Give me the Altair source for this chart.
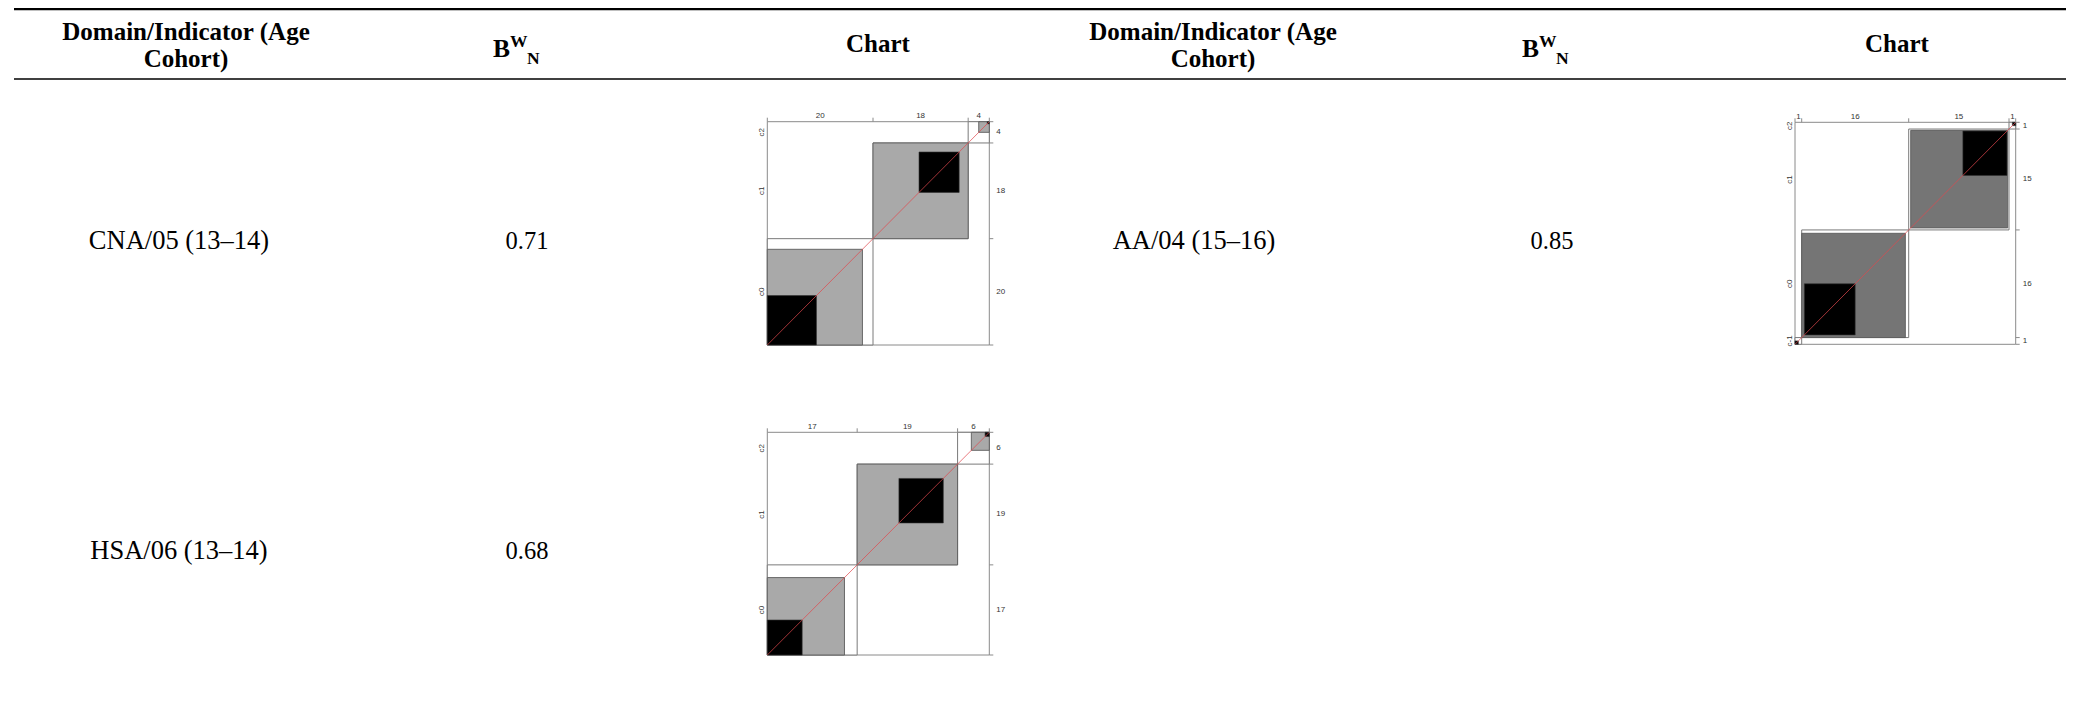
import altair as alt
import pandas as pd

# ---------------- data ----------------
header_col1 = ["Domain/Indicator (Age", "Cohort)"]
header_chart = "Chart"
bwn_parts = ["B", "W", "N"]

row_names = ["CNA/05 (13–14)", "HSA/06 (13–14)", "AA/04 (15–16)"]
row_bwn = ["0.71", "0.68", "0.85"]

# agreement charts: category names, marginal totals, partial (grey) and exact (black) squares
cna_cats = ["c0", "c1", "c2"]
cna_totals = [20, 18, 4]
cna_partial = [(0, 18), (20, 38), (40, 42)]
cna_exact = [(0, 9.3), (28.7, 36.3), (41.6, 42)]

hsa_cats = ["c0", "c1", "c2"]
hsa_totals = [17, 19, 6]
hsa_partial = [(0, 14.6), (17, 36), (38.6, 42)]
hsa_exact = [(0, 6.6), (24.9, 33.3), (41.2, 42)]

aa_cats = ["c-1", "c0", "c1", "c2"]
aa_totals = [1, 16, 15, 1]
aa_partial = [(1.0, 16.5), (17.3, 31.8)]
aa_exact = [(0, 0.5), (1.4, 9.0), (25.1, 31.7), (32.5, 33)]

# ---------------- layout (page pixels) ----------------
PAGE_W, PAGE_H, M = 2074, 707, 8
W, H = PAGE_W - 2 * M, PAGE_H - 2 * M

RULE_X = (14, 2067)
RULE_TOP_Y, RULE_MID_Y = 9.2, 79
HEAD_L1_Y, HEAD_L2_Y, HEAD_MID_Y = 39.5, 66.5, 52
RIGHT_OFF = 1027  # horizontal offset of the right-hand half of the table
COL1_HEAD_X, COL2_X, COL3_X = 186, 527, 878
BWN_HEAD_X = [519, 1548]
COL6_HEAD_X = 1897
ROW_Y = [248.5, 558.5]
ROW1_TEXT_X = 179
ROW4_TEXT_X = 1194
BWN_RIGHT_X = 1552

BOX_CNA = (767.3, 989.3, 121.7, 345.0)
BOX_HSA = (767.3, 989.3, 432.3, 655.0)
BOX_AA = (1795.0, 2015.7, 122.3, 344.3)
TICK_PX = 4

SERIF = "Liberation Serif"
SANS = "Liberation Sans"

px = alt.Scale(domain=[M, PAGE_W - M], range=[0, W], nice=False, zero=False)
py = alt.Scale(domain=[M, PAGE_H - M], range=[0, H], nice=False, zero=False)


def PX(f):
    return alt.X(f, type="quantitative", scale=px, axis=None)


def PY(f):
    return alt.Y(f, type="quantitative", scale=py, axis=None)


# ---------------- table layer ----------------
rules = pd.DataFrame({"x": [RULE_X[0]] * 2, "x2": [RULE_X[1]] * 2,
                      "y": [RULE_TOP_Y, RULE_MID_Y], "w": [2.3, 1.3]})
rule_layer = alt.Chart(rules).mark_rule(color="black").encode(
    x=PX("x"), x2="x2", y=PY("y"), strokeWidth=alt.StrokeWidth("w:Q", scale=None))

head_rows = []
for cx in [COL1_HEAD_X, COL1_HEAD_X + RIGHT_OFF]:
    head_rows.append({"x": cx, "y": HEAD_L1_Y, "t": header_col1[0]})
    head_rows.append({"x": cx, "y": HEAD_L2_Y, "t": header_col1[1]})
head_rows.append({"x": COL3_X, "y": HEAD_MID_Y, "t": header_chart})
head_rows.append({"x": COL6_HEAD_X, "y": HEAD_MID_Y, "t": header_chart})
head_layer = alt.Chart(pd.DataFrame(head_rows)).mark_text(
    font=SERIF, fontWeight="bold", fontSize=25, baseline="alphabetic", align="center", color="black"
).encode(x=PX("x"), y=PY("y"), text="t:N")

b_rows, sup_rows = [], []
for cx in BWN_HEAD_X:
    b_rows.append({"x": cx - 26, "y": 56.5, "t": bwn_parts[0]})
    sup_rows.append({"x": cx - 9, "y": 47, "t": bwn_parts[1]})
    sup_rows.append({"x": cx + 8, "y": 64, "t": bwn_parts[2]})
b_layer = alt.Chart(pd.DataFrame(b_rows)).mark_text(
    font=SERIF, fontWeight="bold", fontSize=25.5, baseline="alphabetic", align="left", color="black"
).encode(x=PX("x"), y=PY("y"), text="t:N")
sup_layer = alt.Chart(pd.DataFrame(sup_rows)).mark_text(
    font=SERIF, fontWeight="bold", fontSize=17.5, baseline="alphabetic", align="left", color="black"
).encode(x=PX("x"), y=PY("y"), text="t:N")

name_rows = [
    {"x": ROW1_TEXT_X, "y": ROW_Y[0], "t": row_names[0]},
    {"x": ROW1_TEXT_X, "y": ROW_Y[1], "t": row_names[1]},
    {"x": ROW4_TEXT_X, "y": ROW_Y[0], "t": row_names[2]},
]
num_rows = [
    {"x": COL2_X, "y": ROW_Y[0], "t": row_bwn[0]},
    {"x": COL2_X, "y": ROW_Y[1], "t": row_bwn[1]},
    {"x": BWN_RIGHT_X, "y": ROW_Y[0], "t": row_bwn[2]},
]
name_layer = alt.Chart(pd.DataFrame(name_rows)).mark_text(
    font=SERIF, fontSize=26.5, baseline="alphabetic", align="center", color="black"
).encode(x=PX("x"), y=PY("y"), text="t:N")
num_layer = alt.Chart(pd.DataFrame(num_rows)).mark_text(
    font=SERIF, fontSize=24.5, baseline="alphabetic", align="center", color="black"
).encode(x=PX("x"), y=PY("y"), text="t:N")

table = alt.layer(rule_layer, head_layer, b_layer, sup_layer, name_layer, num_layer)


# ---------------- agreement chart panels ----------------
def agreement_panel(cats, totals, partial, exact, fill, box):
    x0, x1, yt, yb = box
    n = sum(totals)
    cum = [0]
    for t in totals:
        cum.append(cum[-1] + t)
    mids = [(cum[i] + cum[i + 1]) / 2 for i in range(len(totals))]
    xs = alt.Scale(domain=[0, n], range=[x0 - M, x1 - M], nice=False, zero=False)
    ys = alt.Scale(domain=[0, n], range=[yb - M, yt - M], nice=False, zero=False)
    tlx = TICK_PX * n / (x1 - x0)
    tly = TICK_PX * n / (yb - yt)

    def X(f):
        return alt.X(f, type="quantitative", scale=xs, axis=None)

    def Y(f):
        return alt.Y(f, type="quantitative", scale=ys, axis=None)

    frame = alt.Chart(pd.DataFrame({"lo": [0], "hi": [n]})).mark_rect(
        fill="white", stroke="#8a8a8a", strokeWidth=1
    ).encode(x=X("lo"), x2="hi", y=Y("lo"), y2="hi")

    outer = alt.Chart(pd.DataFrame({"lo": cum[:-1], "hi": cum[1:]})).mark_rect(
        fill="white", stroke="#7a7a7a", strokeWidth=1
    ).encode(x=X("lo"), x2="hi", y=Y("lo"), y2="hi")

    part = alt.Chart(pd.DataFrame({"lo": [p[0] for p in partial], "hi": [p[1] for p in partial]})).mark_rect(
        fill=fill, stroke="#5c5c5c", strokeWidth=0.9
    ).encode(x=X("lo"), x2="hi", y=Y("lo"), y2="hi")

    ex = alt.Chart(pd.DataFrame({"lo": [e[0] for e in exact], "hi": [e[1] for e in exact]})).mark_rect(
        fill="black", stroke="#333333", strokeWidth=0.6
    ).encode(x=X("lo"), x2="hi", y=Y("lo"), y2="hi")

    diag = alt.Chart(pd.DataFrame({"a": [0], "b": [n]})).mark_rule(
        color="#e0474c", strokeWidth=0.8, opacity=0.9
    ).encode(x=X("a"), y=Y("a"), x2="b", y2="b")

    top_ticks = alt.Chart(pd.DataFrame({"b": cum, "v": [n] * len(cum), "v2": [n + tly] * len(cum)})).mark_rule(
        color="#8a8a8a", strokeWidth=1
    ).encode(x=X("b"), y=Y("v"), y2="v2")

    right_ticks = alt.Chart(pd.DataFrame({"b": cum, "v": [n] * len(cum), "v2": [n + tlx] * len(cum)})).mark_rule(
        color="#8a8a8a", strokeWidth=1
    ).encode(y=Y("b"), x=X("v"), x2="v2")

    lab = pd.DataFrame({"c": mids, "v": [n] * len(mids), "z": [0] * len(mids),
                        "t": [str(t) for t in totals], "cat": cats})
    top_lab = alt.Chart(lab).mark_text(
        font=SANS, fontSize=8, color="#333333", baseline="alphabetic", align="center", dy=-3.5
    ).encode(x=X("c"), y=Y("v"), text="t:N")
    right_lab = alt.Chart(lab).mark_text(
        font=SANS, fontSize=8, color="#333333", baseline="middle", align="left", dx=7
    ).encode(y=Y("c"), x=X("v"), text="t:N")
    left_lab = alt.Chart(lab).mark_text(
        font=SANS, fontSize=8, color="#333333", baseline="alphabetic", align="center", angle=270, dy=-3.3
    ).encode(y=Y("c"), x=X("z"), text="cat:N")

    return alt.layer(frame, outer, part, ex, diag, top_ticks, right_ticks, top_lab, right_lab, left_lab)


p_cna = agreement_panel(cna_cats, cna_totals, cna_partial, cna_exact, "#a9a9a9", BOX_CNA)
p_hsa = agreement_panel(hsa_cats, hsa_totals, hsa_partial, hsa_exact, "#a9a9a9", BOX_HSA)
p_aa = agreement_panel(aa_cats, aa_totals, aa_partial, aa_exact, "#757575", BOX_AA)

chart = alt.layer(table, p_cna, p_hsa, p_aa).resolve_scale(
    x="independent", y="independent"
).properties(
    width=W, height=H, padding=0, autosize=alt.AutoSizeParams(type="none"), background="white"
).configure_view(stroke=None)

chart.save("out.html", embed_options={"renderer": "svg", "actions": False})
